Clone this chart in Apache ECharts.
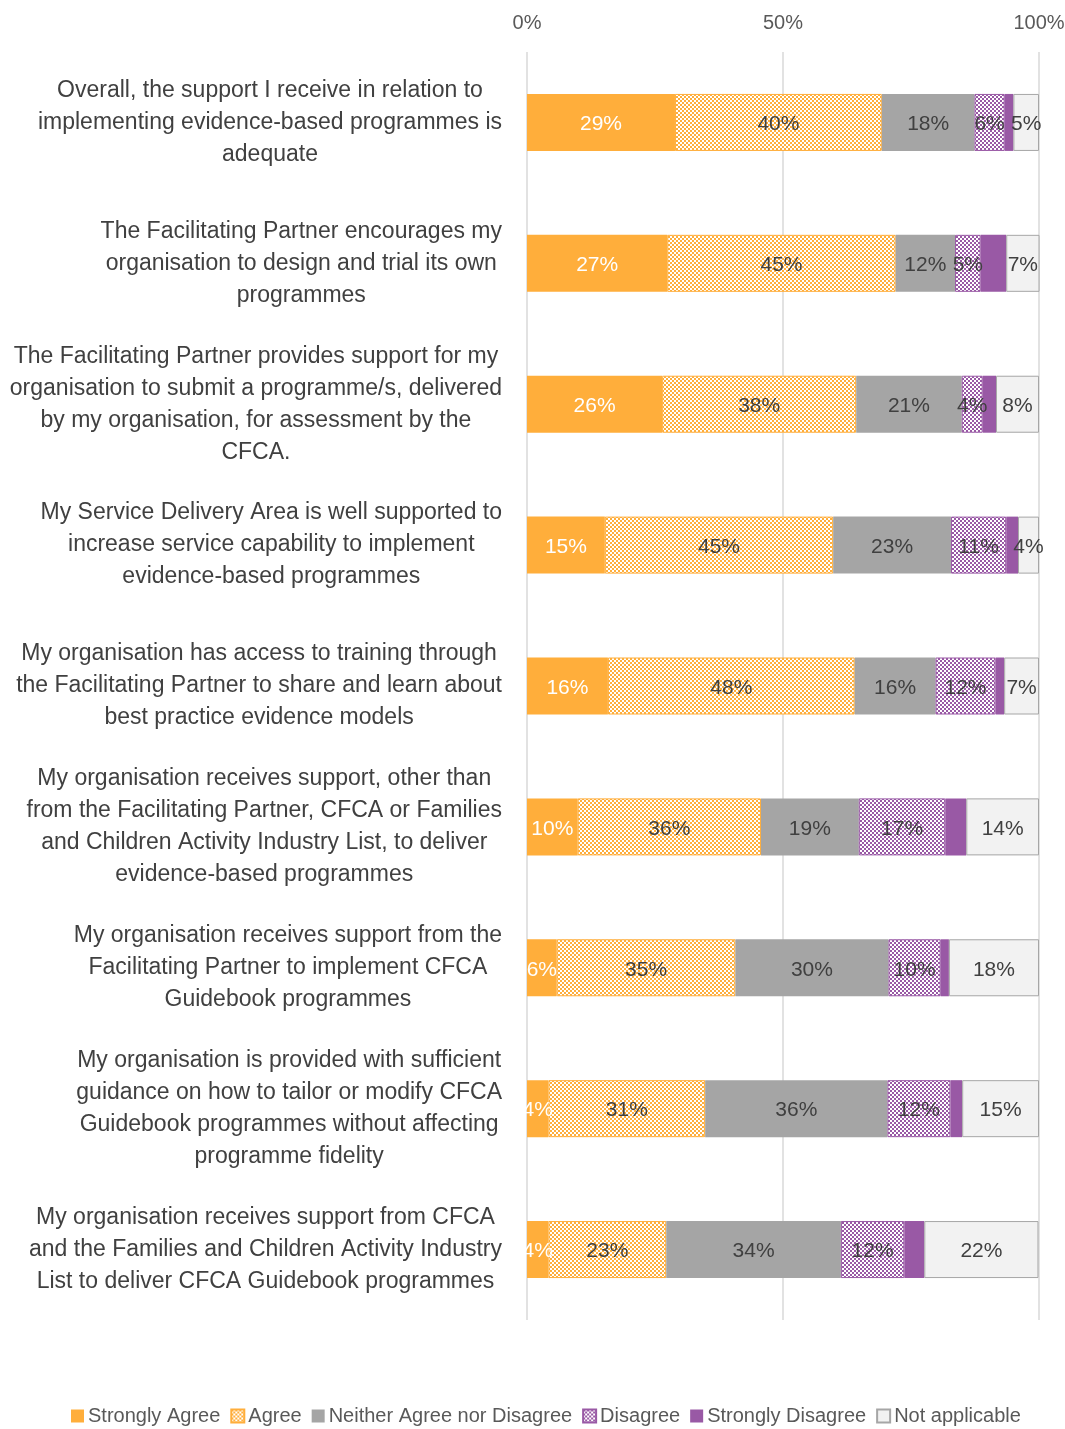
<!DOCTYPE html>
<html>
<head>
<meta charset="utf-8">
<script src="https://cdn.jsdelivr.net/npm/echarts@6/dist/echarts.min.js"></script>
<style>
html,body{margin:0;padding:0;background:#fff;}
#chart{width:1065px;height:1429px;}
</style>
</head>
<body>
<div id="chart"></div>
<script>
const categories = [
  "Overall, the support I receive in relation to\nimplementing evidence-based programmes is\nadequate",
  "The Facilitating Partner encourages my\norganisation to design and trial its own\nprogrammes",
  "The Facilitating Partner provides support for my\norganisation to submit a programme/s, delivered\nby my organisation, for assessment by the\nCFCA.",
  "My Service Delivery Area is well supported to\nincrease service capability to implement\nevidence-based programmes",
  "My organisation has access to training through\nthe Facilitating Partner to share and learn about\nbest practice evidence models",
  "My organisation receives support, other than\nfrom the Facilitating Partner, CFCA or Families\nand Children Activity Industry List, to deliver\nevidence-based programmes",
  "My organisation receives support from the\nFacilitating Partner to implement CFCA\nGuidebook programmes",
  "My organisation is provided with sufficient\nguidance on how to tailor or modify CFCA\nGuidebook programmes without affecting\nprogramme fidelity",
  "My organisation receives support from CFCA\nand the Families and Children Activity Industry\nList to deliver CFCA Guidebook programmes"
];
const seriesNames = ["Strongly Agree", "Agree", "Neither Agree nor Disagree", "Disagree", "Strongly Disagree", "Not applicable"];
const stronglyAgree = [28.9, 27.4, 26.4, 15.2, 15.8, 9.9, 5.8, 4.2, 4.2];
const agree         = [40.4, 44.6, 37.9, 44.6, 48.2, 35.8, 34.9, 30.6, 23.0];
const neither       = [18.1, 11.6, 20.6, 23.0, 15.8, 19.1, 29.9, 35.6, 34.1];
const disagree      = [5.9, 5.0, 4.1, 10.8, 11.7, 16.9, 10.2, 12.3, 12.4];
const stronglyDis   = [1.7, 5.0, 2.6, 2.3, 1.7, 4.1, 1.6, 2.3, 3.9];
const notApplicable = [5.0, 6.6, 8.4, 4.1, 6.8, 14.2, 17.6, 15.0, 22.3];
const tickLabels = ["0%", "50%", "100%"];

const FONT = "'Liberation Sans Narrow', 'Arial Narrow', 'Liberation Sans', Arial, sans-serif";
const TXT = '#404040';

function checker(c1, c2, cell) {
  const cv = document.createElement('canvas');
  cv.width = cell * 2; cv.height = cell * 2;
  const ctx = cv.getContext('2d');
  ctx.fillStyle = c2; ctx.fillRect(0, 0, cell * 2, cell * 2);
  ctx.fillStyle = c1;
  ctx.fillRect(0, 0, cell, cell);
  ctx.fillRect(cell, cell, cell, cell);
  return { image: cv, repeat: 'repeat' };
}

const ORANGE = '#FFAE3B';
const GREY = '#A5A5A5';
const PURPLE = '#9959A5';
const NA = '#F2F2F2';

const styles = [
  { color: ORANGE, borderColor: ORANGE, borderWidth: 0, label: '#ffffff', showLabel: true },
  { color: checker(ORANGE, '#ffffff', 2), borderColor: ORANGE, borderWidth: 1, label: TXT, showLabel: true },
  { color: GREY, borderColor: GREY, borderWidth: 0, label: TXT, showLabel: true },
  { color: checker(PURPLE, '#ffffff', 2), borderColor: PURPLE, borderWidth: 1, label: TXT, showLabel: true },
  { color: PURPLE, borderColor: PURPLE, borderWidth: 0, label: TXT, showLabel: false },
  { color: NA, borderColor: '#A6A6A6', borderWidth: 1, label: TXT, showLabel: true }
];
const dataSets = [stronglyAgree, agree, neither, disagree, stronglyDis, notApplicable];

const series = seriesNames.map((name, i) => ({
  name: name,
  type: 'bar',
  stack: 'total',
  barWidth: 57,
  data: dataSets[i],
  itemStyle: { color: styles[i].color, borderColor: styles[i].borderColor, borderWidth: styles[i].borderWidth },
  label: {
    show: styles[i].showLabel,
    position: 'inside',
    formatter: p => Math.round(p.value) + '%',
    color: styles[i].label,
    fontFamily: FONT,
    fontSize: 21,
    offset: [0, 2]
  },
  emphasis: { disabled: true }
}));

const chart = echarts.init(document.getElementById('chart'), null, { renderer: 'canvas' });
chart.setOption({
  animation: false,
  backgroundColor: '#ffffff',
  textStyle: { fontFamily: FONT },
  grid: { left: 527, right: 26, top: 52, bottom: 109, containLabel: false, outerBoundsMode: 'none' },
  xAxis: {
    type: 'value',
    position: 'top',
    min: 0,
    max: 100,
    interval: 50,
    axisLine: { show: false },
    axisTick: { show: false },
    splitLine: { show: true, lineStyle: { color: '#D9D9D9', width: 1.5 } },
    axisLabel: {
      formatter: v => tickLabels[Math.round(v / 50)],
      color: '#595959',
      fontFamily: FONT,
      fontSize: 20,
      margin: 19
    }
  },
  yAxis: {
    type: 'category',
    inverse: true,
    data: categories,
    axisLine: { show: false },
    axisTick: { show: false },
    axisLabel: {
      margin: 25,
      align: 'right',
      formatter: v => v.split('\n').map(l => '{c|' + l + '}').join('\n'),
      rich: {
        c: { align: 'center', fontFamily: FONT, fontSize: 23, color: TXT, lineHeight: 32 }
      }
    }
  },
  legend: {
    top: 1401,
    left: 66,
    icon: 'rect',
    itemWidth: 13,
    itemHeight: 13,
    itemGap: 10,
    textStyle: { fontFamily: FONT, fontSize: 20, color: '#595959', padding: [0, 0, 0, -1] },
    data: seriesNames
  },
  series: series
});
</script>
</body>
</html>
